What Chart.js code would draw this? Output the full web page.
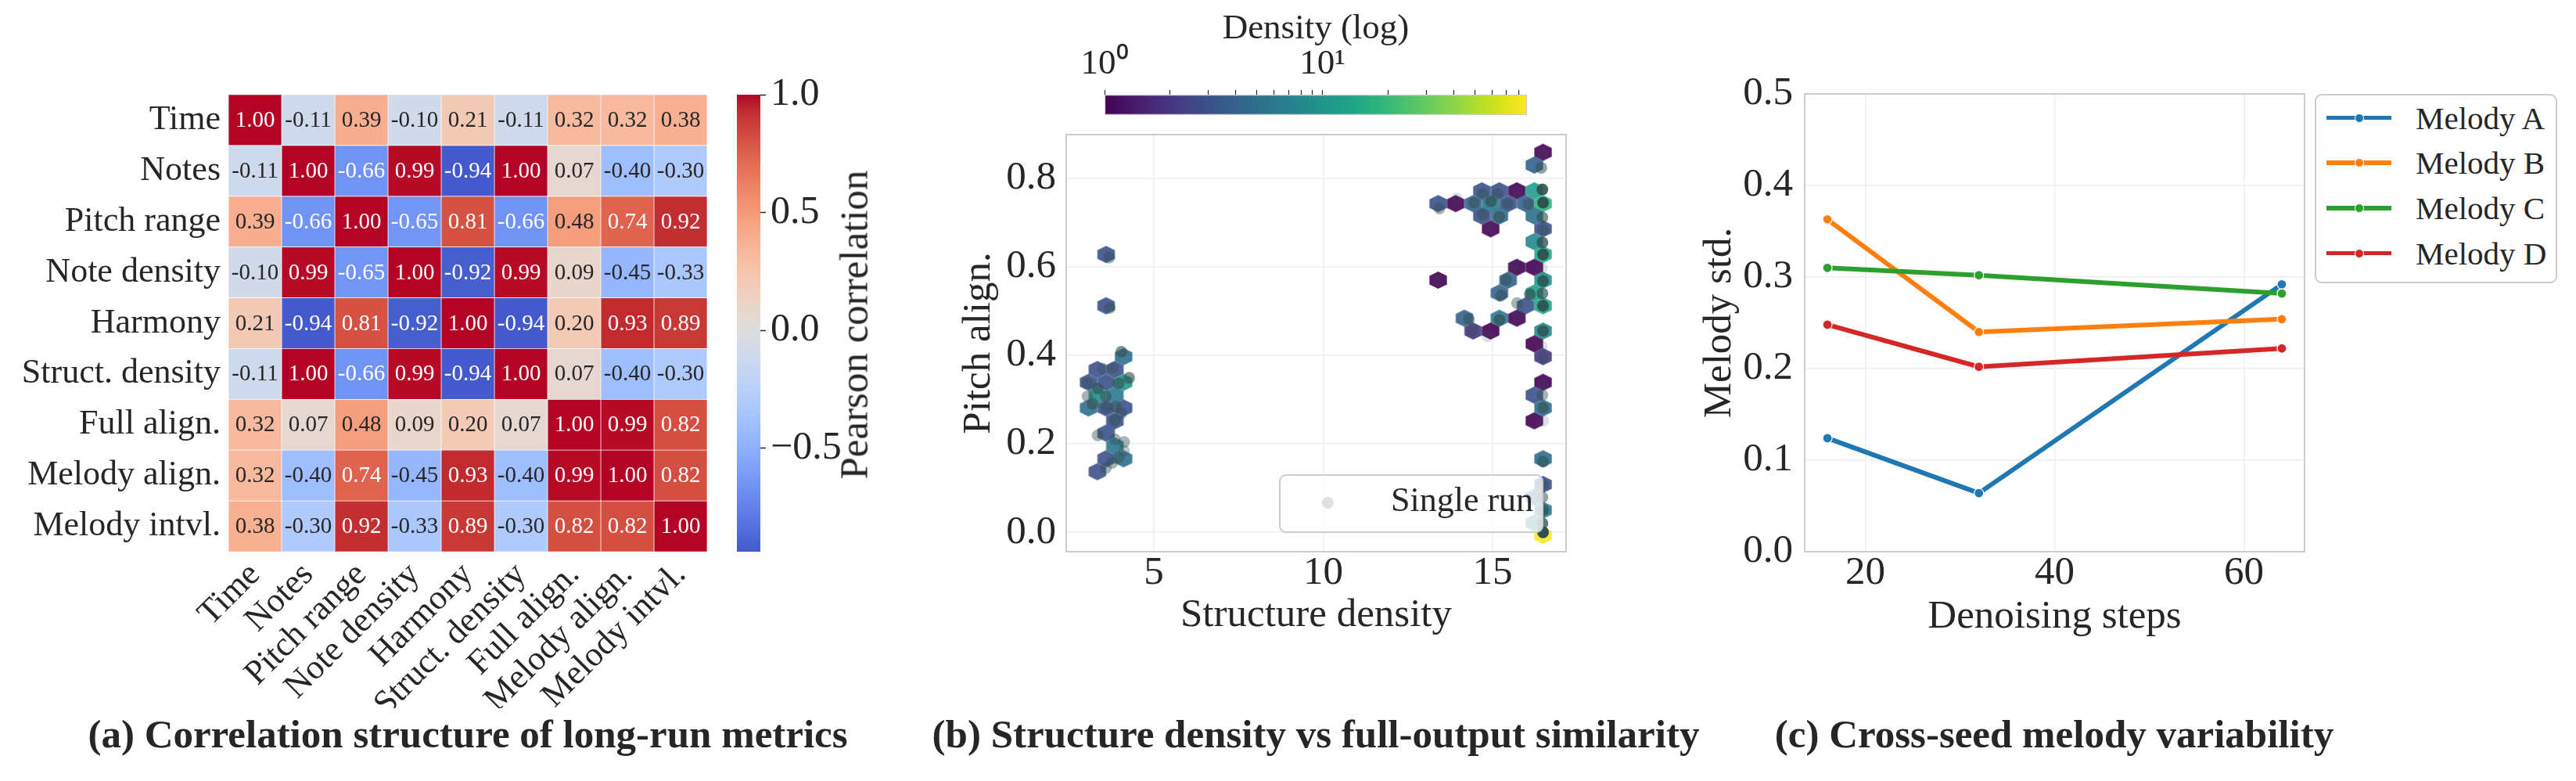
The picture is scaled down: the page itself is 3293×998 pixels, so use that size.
<!DOCTYPE html>
<html>
<head>
<meta charset="utf-8">
<title>Long-run metrics</title>
<script src="https://cdn.jsdelivr.net/npm/chart.js@4.4.1/dist/chart.umd.min.js"></script>
<style>
  html, body { margin:0; padding:0; background:#ffffff; }
  #fig { position:relative; width:3293px; height:998px; overflow:hidden; background:#ffffff;
         font-family:"Liberation Serif","Times New Roman",serif; color:#262626; }
  #fig canvas { position:absolute; }
  .caption { position:absolute; font-weight:bold; font-size:51px; line-height:51px; white-space:nowrap; transform:translateX(-50%); }
  .vlabel { position:absolute; font-size:51px; line-height:51px; white-space:nowrap; transform:translate(-50%,-50%) rotate(-90deg); }
  .lgbox { position:absolute; box-sizing:border-box; border:2px solid #cccccc; border-radius:9px; }
  .lgtext { position:absolute; white-space:nowrap; }
  .lgline { position:absolute; }
  .lgdot { position:absolute; border-radius:50%; box-sizing:border-box; }
</style>
</head>
<body>
<div id="fig">
  <canvas id="heat" width="930" height="998" style="left:0px;top:0px"></canvas>
  <canvas id="cbA" width="200" height="998" style="left:930px;top:0px"></canvas>
  <canvas id="hex" width="900" height="998" style="left:1150px;top:0px"></canvas>
  <canvas id="cbB" width="750" height="160" style="left:1300px;top:0px"></canvas>
  <canvas id="lines" width="1143" height="998" style="left:2150px;top:0px"></canvas>

  <div class="vlabel" style="left:1092px;top:415px">Pearson correlation</div>

  <div class="caption" style="left:598px;top:913px">(a) Correlation structure of long-run metrics</div>
  <div class="caption" style="left:1682px;top:913px">(b) Structure density vs full-output similarity</div>
  <div class="caption" style="left:2626px;top:913px">(c) Cross-seed melody variability</div>

  <div id="legendB"></div>
  <div id="legendC"></div>
</div>

<script>
// ======================= DATA =======================
// (a) correlation matrix
const metricLabels = ['Time','Notes','Pitch range','Note density','Harmony','Struct. density','Full align.','Melody align.','Melody intvl.'];
const corrTime          = [ 1.00,-0.11, 0.39,-0.10, 0.21,-0.11, 0.32, 0.32, 0.38];
const corrNotes         = [-0.11, 1.00,-0.66, 0.99,-0.94, 1.00, 0.07,-0.40,-0.30];
const corrPitchRange    = [ 0.39,-0.66, 1.00,-0.65, 0.81,-0.66, 0.48, 0.74, 0.92];
const corrNoteDensity   = [-0.10, 0.99,-0.65, 1.00,-0.92, 0.99, 0.09,-0.45,-0.33];
const corrHarmony       = [ 0.21,-0.94, 0.81,-0.92, 1.00,-0.94, 0.20, 0.93, 0.89];
const corrStructDensity = [-0.11, 1.00,-0.66, 0.99,-0.94, 1.00, 0.07,-0.40,-0.30];
const corrFullAlign     = [ 0.32, 0.07, 0.48, 0.09, 0.20, 0.07, 1.00, 0.99, 0.82];
const corrMelodyAlign   = [ 0.32,-0.40, 0.74,-0.45, 0.93,-0.40, 0.99, 1.00, 0.82];
const corrMelodyIntvl   = [ 0.38,-0.30, 0.92,-0.33, 0.89,-0.30, 0.82, 0.82, 1.00];
const corrRows = [corrTime, corrNotes, corrPitchRange, corrNoteDensity, corrHarmony,
                  corrStructDensity, corrFullAlign, corrMelodyAlign, corrMelodyIntvl];
const corrBarTicks = [-0.5, 0.0, 0.5, 1.0];

// (b) hexbin cells (centre x, centre y, count) and single runs (x, y, number of overlapping runs)
const hexX = [16.49,16.232,14.684,15.2,15.716,16.232,13.394,13.91,14.426,14.942,15.458,15.974,16.49,
              14.684,15.2,16.232,14.942,16.49,16.232,16.49,15.716,16.232,13.394,15.458,16.49,15.2,16.232,
              15.974,16.49,14.168,15.2,15.716,14.426,14.942,16.49,16.232,16.49,16.49,16.232,16.49,16.232,
              16.49,16.49,16.232,16.49,16.232,16.49,
              3.59,3.59,4.106,3.332,3.848,3.074,3.59,4.106,3.332,3.848,3.074,3.59,4.106,3.848,3.59,3.848,3.59,4.106,3.332];
const hexY = [0.859,0.830,0.772,0.772,0.772,0.772,0.743,0.743,0.743,0.743,0.743,0.743,0.743,
              0.715,0.715,0.715,0.686,0.686,0.657,0.628,0.599,0.599,0.570,0.570,0.570,0.541,0.541,
              0.512,0.512,0.484,0.484,0.484,0.455,0.455,0.455,0.426,0.397,0.339,0.310,0.281,0.252,
              0.166,0.108,0.079,0.050,0.021,-0.007,
              0.628,0.512,0.397,0.368,0.368,0.339,0.339,0.339,0.310,0.310,0.281,0.281,0.281,0.252,0.224,0.195,0.166,0.166,0.137];
const hexCount = [1,4,3,3,1,12,3,1,4,6,3,4,18,
                  3,5,5,1,3,8,14,1,1,1,4,9,4,12,
                  3,13,4,6,1,2,1,8,1,2,1,3,5,1,
                  5,3,4,6,8,87,
                  3,3,5,3,3,3,3,10,9,6,5,3,3,3,3,6,3,5,3];
const runX = [16.49,16.44,14.70,15.15,15.75,16.47,13.43,13.95,14.45,14.95,15.45,16.05,16.49,
              14.70,15.20,16.47,14.94,16.49,16.47,16.49,15.62,16.45,13.40,15.40,16.49,15.25,16.10,
              16.47,15.72,16.49,14.30,15.20,15.75,14.40,14.85,16.49,16.45,16.49,16.49,16.47,16.49,
              16.49,16.49,16.49,16.47,16.49,16.47,16.49,
              3.68,3.70,4.04,3.50,3.80,3.04,4.27,3.96,3.34,3.58,3.04,3.19,3.88,4.04,3.59,3.85,3.34,
              3.85,4.12,4.12,3.96,3.77,3.58];
const runY = [0.855,0.824,0.765,0.765,0.765,0.775,0.732,0.755,0.745,0.748,0.742,0.742,0.745,
              0.718,0.713,0.712,0.690,0.684,0.655,0.628,0.600,0.597,0.568,0.570,0.568,0.535,0.538,
              0.540,0.518,0.512,0.482,0.480,0.490,0.455,0.443,0.455,0.420,0.393,0.335,0.310,0.281,
              0.252,0.160,0.108,0.079,0.050,0.020,0.000,
              0.621,0.507,0.408,0.370,0.372,0.337,0.349,0.337,0.325,0.307,0.307,0.290,0.284,0.269,0.281,0.253,0.219,
              0.210,0.204,0.184,0.169,0.157,0.145];
const runN = [1,4,3,3,1,12,3,1,4,6,3,3,18,
              3,5,5,1,3,8,14,1,1,1,4,9,4,6,
              6,3,13,4,6,1,2,1,8,1,2,1,3,5,
              1,5,3,4,6,8,87,
              3,3,5,2,2,3,5,5,5,4,3,5,3,3,3,3,3,
              3,3,2,3,3,3];
const densityTicks = [1,2,3,4,5,6,7,8,9,10,20,30,40,50,60,70,80];
const structTicks = [5, 10, 15];
const alignTicks = [0.0, 0.2, 0.4, 0.6, 0.8];

// (c) cross-seed variability
const steps   = [16, 32, 64];
const melodyA = [0.124, 0.064, 0.292];
const melodyB = [0.363, 0.240, 0.254];
const melodyC = [0.310, 0.302, 0.282];
const melodyD = [0.248, 0.202, 0.222];
const seriesNames = ['Melody A', 'Melody B', 'Melody C', 'Melody D'];
const stdTicks  = [0.0, 0.1, 0.2, 0.3, 0.4, 0.5];
const stepTicks = [20, 40, 60];

// ======================= STYLE HELPERS =======================
const INK = '#262626';
const seriesColors = ['#1f77b4', '#ff7f0e', '#2ca02c', '#d62728'];
Chart.defaults.font.family = '"Liberation Serif", "Times New Roman", serif';
Chart.defaults.color = INK;

const coolwarmTable = [
 [59,76,192],[68,90,204],[77,104,215],[87,117,225],[98,130,234],[108,142,241],[119,154,247],[130,165,251],
 [141,176,254],[152,185,255],[163,194,255],[174,201,253],[184,208,249],[194,213,244],[204,217,238],[213,219,230],
 [221,221,221],[229,216,209],[236,211,197],[241,204,184],[245,196,172],[247,187,159],[247,177,147],[247,166,134],
 [244,154,122],[241,141,111],[236,127,99],[229,112,89],[222,96,77],[213,80,66],[203,62,56],[192,40,47],[180,4,38]];
const viridisTable = ['#440154','#471365','#482475','#463480','#414487','#3b528b','#355f8d','#2f6c8e','#2a788e',
 '#25848e','#21918c','#1e9c89','#22a884','#2fb47c','#44bf70','#5ec962','#7ad151','#9bd93c','#bddf26','#dfe318','#fde725']
 .map(h => [parseInt(h.slice(1,3),16), parseInt(h.slice(3,5),16), parseInt(h.slice(5,7),16)]);

function sampleTable(tab, t) {
  t = Math.max(0, Math.min(1, t));
  const p = t * (tab.length - 1), i = Math.min(tab.length - 2, Math.floor(p)), f = p - i;
  return tab[i].map((c, k) => Math.round(c + (tab[i + 1][k] - c) * f));
}
function rgb(a, alpha) { return alpha === undefined ? `rgb(${a[0]},${a[1]},${a[2]})` : `rgba(${a[0]},${a[1]},${a[2]},${alpha})`; }
// seaborn-style centred map: value v -> coolwarm((v + 1) / 2)
function corrColorArr(v) { return sampleTable(coolwarmTable, (v + 1) / 2); }
function luminance(a) {
  const l = a.map(c => { c /= 255; return c <= 0.03928 ? c / 12.92 : Math.pow((c + 0.055) / 1.055, 2.4); });
  return 0.2126 * l[0] + 0.7152 * l[1] + 0.0722 * l[2];
}
const allCorr = corrRows.flat();
const corrMin = Math.min(...allCorr), corrMax = Math.max(...allCorr);
const densMin = 1, densMax = Math.max(...hexCount);
function hexColor(c) { return rgb(sampleTable(viridisTable, Math.log10(c) / Math.log10(densMax)), 0.9); }
const minus = s => s.replace('-', '\u2212');

const baseOpts = { responsive: false, animation: false, devicePixelRatio: 1, events: [] };
const noPlugins = { legend: { display: false }, tooltip: { enabled: false } };

const framePlugin = {
  id: 'frame',
  afterDraw(chart) {
    const { ctx, chartArea: a } = chart;
    ctx.save(); ctx.strokeStyle = '#cccccc'; ctx.lineWidth = 2;
    ctx.strokeRect(a.left, a.top, a.right - a.left, a.bottom - a.top); ctx.restore();
  }
};

// ======================= (a) HEATMAP =======================
const cellTextPlugin = {
  id: 'cellText',
  afterDatasetsDraw(chart) {
    const { ctx } = chart;
    ctx.save();
    ctx.font = '29px "Liberation Serif", serif';
    ctx.textAlign = 'center'; ctx.textBaseline = 'middle';
    chart.data.datasets.forEach((ds, j) => {
      chart.getDatasetMeta(j).data.forEach((el, i) => {
        const v = ds.corr[i];
        ctx.fillStyle = luminance(corrColorArr(v)) > 0.408 ? INK : '#ffffff';
        ctx.fillText(v.toFixed(2), (el.x + el.base) / 2, el.y + 1);
      });
    });
    ctx.restore();
  }
};

new Chart(document.getElementById('heat'), {
  type: 'bar',
  data: {
    labels: metricLabels,
    datasets: metricLabels.map((name, j) => ({
      label: name,
      corr: corrRows.map(r => r[j]),
      data: corrRows.map(() => [j, j + 1]),
      backgroundColor: corrRows.map(r => rgb(corrColorArr(r[j]))),
      borderColor: '#ffffff', borderWidth: 0.7, borderSkipped: false,
      barPercentage: 1, categoryPercentage: 1, grouped: false
    }))
  },
  options: Object.assign({}, baseOpts, {
    indexAxis: 'y',
    layout: { padding: { left: 0, top: 121, right: 26, bottom: 93 } },
    plugins: noPlugins,
    scales: {
      x: {
        type: 'linear', min: 0, max: metricLabels.length,
        afterBuildTicks: s => { s.ticks = metricLabels.map((_, i) => ({ value: i + 0.5 })); },
        afterFit: s => { s.height = 200; },
        ticks: { autoSkip: false, maxRotation: 45, minRotation: 45, padding: 4, font: { size: 44 }, color: INK,
                 callback: (v, i) => metricLabels[i] },
        grid: { display: false, drawTicks: false }, border: { display: false }
      },
      y: {
        type: 'category',
        afterFit: s => { s.width = 292; },
        ticks: { autoSkip: false, padding: 10, font: { size: 44 }, color: INK },
        grid: { display: false, drawTicks: false }, border: { display: false }
      }
    }
  }),
  plugins: [cellTextPlugin]
});

// colour bar (a)
new Chart(document.getElementById('cbA'), {
  type: 'bar',
  data: { labels: ['r'], datasets: [{
    data: [[corrMin, corrMax]],
    backgroundColor: (ctx) => {
      const ch = ctx.chart; if (!ch.chartArea) return '#dddddd';
      const ys = ch.scales.y, y0 = ys.getPixelForValue(corrMin), y1 = ys.getPixelForValue(corrMax);
      const g = ch.ctx.createLinearGradient(0, y0, 0, y1);
      for (let k = 0; k <= 64; k++) { const v = corrMin + (corrMax - corrMin) * k / 64; g.addColorStop(k / 64, rgb(corrColorArr(v))); }
      return g;
    },
    borderWidth: 0, barPercentage: 1, categoryPercentage: 1
  }] },
  options: Object.assign({}, baseOpts, {
    layout: { padding: { left: 12, top: 121, right: 0, bottom: 293 } },
    plugins: noPlugins,
    scales: {
      x: { display: false },
      y: {
        position: 'right', min: corrMin, max: corrMax,
        afterFit: s => { s.width = 158; },
        afterBuildTicks: s => { s.ticks = corrBarTicks.map(v => ({ value: v })); },
        ticks: { padding: 6, font: { size: 50 }, color: INK, callback: v => minus(v.toFixed(1)) },
        grid: { drawOnChartArea: false, drawTicks: true, tickLength: 7, tickColor: INK, tickWidth: 1.5 },
        border: { display: false }
      }
    }
  })
});

// ======================= (b) HEXBIN =======================
const HEX_W = 0.516;    // hexagon width in data units (x)
const HEX_SY = 0.0578;  // hex lattice row period in data units (y)
const hexCache = {};
function makeHex(color, sx, sy) {
  const c = document.createElement('canvas');
  const w = Math.ceil(sx) + 2, h = Math.ceil(2 * sy / 3) + 2;
  c.width = w; c.height = h;
  const g = c.getContext('2d'), cx = w / 2, cy = h / 2;
  g.fillStyle = color; g.beginPath();
  g.moveTo(cx + sx / 2, cy - sy / 6); g.lineTo(cx + sx / 2, cy + sy / 6); g.lineTo(cx, cy + sy / 3);
  g.lineTo(cx - sx / 2, cy + sy / 6); g.lineTo(cx - sx / 2, cy - sy / 6); g.lineTo(cx, cy - sy / 3);
  g.closePath(); g.fill();
  return c;
}
function hexStyle(ctx) {
  const i = ctx.dataIndex;
  if (i === undefined) return 'circle';
  const xs = ctx.chart.scales.x, ys = ctx.chart.scales.y;
  const sx = Math.abs(xs.getPixelForValue(HEX_W) - xs.getPixelForValue(0));
  const sy = Math.abs(ys.getPixelForValue(HEX_SY) - ys.getPixelForValue(0));
  const col = hexColor(hexCount[i]);
  const key = col + '|' + sx.toFixed(2) + '|' + sy.toFixed(2);
  if (!hexCache[key]) hexCache[key] = makeHex(col, sx, sy);
  return hexCache[key];
}

const gridStyle = { color: '#eeeeee', lineWidth: 1.5, drawTicks: false };
new Chart(document.getElementById('hex'), {
  type: 'scatter',
  data: { datasets: [
    { label: 'Single run', data: runX.map((x, i) => ({ x, y: runY[i] })),
      pointRadius: 7.5, pointBorderWidth: 0, pointHoverRadius: 7.5,
      pointBackgroundColor: runN.map(n => `rgba(47,79,79,${(1 - Math.pow(0.83, n)).toFixed(3)})`), order: 1 },
    { label: 'Density', data: hexX.map((x, i) => ({ x, y: hexY[i] })),
      pointRadius: 12, pointStyle: hexStyle, order: 2 }
  ] },
  options: Object.assign({}, baseOpts, {
    layout: { padding: { left: 0, top: 172, right: 48, bottom: 163 } },
    plugins: noPlugins,
    scales: {
      x: {
        type: 'linear', min: 2.413, max: 17.17,
        afterBuildTicks: s => { s.ticks = structTicks.map(v => ({ value: v })); },
        afterFit: s => { s.height = 130; },
        ticks: { padding: 0, font: { size: 51, lineHeight: 1.1 }, color: INK, maxRotation: 0 },
        grid: gridStyle, border: { display: false },
        title: { display: true, text: 'Structure density', font: { size: 51 }, color: INK, padding: { top: 0, bottom: 18 } }
      },
      y: {
        type: 'linear', min: -0.044, max: 0.899,
        afterBuildTicks: s => { s.ticks = alignTicks.map(v => ({ value: v })); },
        afterFit: s => { s.width = 213; },
        ticks: { padding: 13, font: { size: 51 }, color: INK, callback: v => v.toFixed(1) },
        grid: gridStyle, border: { display: false },
        title: { display: true, text: 'Pitch align.', font: { size: 51 }, color: INK, padding: { top: 71, bottom: 0 } }
      }
    }
  }),
  plugins: [framePlugin]
});

// colour bar (b)
new Chart(document.getElementById('cbB'), {
  type: 'bar',
  data: { labels: ['d'], datasets: [{
    data: [[densMin, densMax]],
    backgroundColor: (ctx) => {
      const ch = ctx.chart; if (!ch.chartArea) return '#21918c';
      const xs = ch.scales.x, x0 = xs.getPixelForValue(densMin), x1 = xs.getPixelForValue(densMax);
      const g = ch.ctx.createLinearGradient(x0, 0, x1, 0);
      for (let k = 0; k <= 40; k++) g.addColorStop(k / 40, rgb(sampleTable(viridisTable, k / 40)));
      return g;
    },
    borderColor: '#cccccc', borderWidth: 1.5, borderSkipped: false, barPercentage: 1, categoryPercentage: 1
  }] },
  options: Object.assign({}, baseOpts, {
    indexAxis: 'y',
    layout: { padding: { left: 112, right: 98, top: 0, bottom: 13 } },
    plugins: noPlugins,
    scales: {
      y: { display: false },
      x: {
        type: 'logarithmic', position: 'top', min: densMin, max: densMax,
        afterFit: s => { s.height = 121; },
        afterBuildTicks: s => { s.ticks = densityTicks.map(v => ({ value: v })); },
        ticks: { autoSkip: false, maxRotation: 0, padding: 8, font: { size: 45, lineHeight: 1.1 }, color: INK,
                 callback: v => (v === 1 ? '10\u2070' : (v === 10 ? '10\u00b9' : '')) },
        grid: { drawOnChartArea: false, drawTicks: true, tickLength: 6, tickColor: INK, tickWidth: 1.2 },
        border: { display: false },
        title: { display: true, text: 'Density (log)', font: { size: 45 }, color: INK, padding: { top: 10, bottom: 0 } }
      }
    }
  })
});

// ======================= (c) LINES =======================
const melodySeries = [melodyA, melodyB, melodyC, melodyD];
new Chart(document.getElementById('lines'), {
  type: 'line',
  data: { datasets: melodySeries.map((vals, k) => ({
    label: seriesNames[k],
    data: steps.map((s, i) => ({ x: s, y: vals[i] })),
    borderColor: seriesColors[k], backgroundColor: seriesColors[k], borderWidth: 6,
    pointRadius: 6, pointBorderColor: '#ffffff', pointBorderWidth: 1.2, pointBackgroundColor: seriesColors[k],
    tension: 0, fill: false, order: melodySeries.length - 1 - k
  })) },
  options: Object.assign({}, baseOpts, {
    layout: { padding: { left: 0, top: 120, right: 347, bottom: 163 } },
    plugins: noPlugins,
    scales: {
      x: {
        type: 'linear', min: 13.6, max: 66.4,
        afterBuildTicks: s => { s.ticks = stepTicks.map(v => ({ value: v })); },
        afterFit: s => { s.height = 130; },
        ticks: { padding: 0, font: { size: 51, lineHeight: 1.1 }, color: INK, maxRotation: 0 },
        grid: gridStyle, border: { display: false },
        title: { display: true, text: 'Denoising steps', font: { size: 51 }, color: INK, padding: { top: 0, bottom: 16 } }
      },
      y: {
        type: 'linear', min: 0, max: 0.5,
        afterBuildTicks: s => { s.ticks = stdTicks.map(v => ({ value: v })); },
        afterFit: s => { s.width = 157; },
        ticks: { padding: 15, font: { size: 51 }, color: INK, callback: v => v.toFixed(1) },
        grid: gridStyle, border: { display: false },
        title: { display: true, text: 'Melody std.', font: { size: 51 }, color: INK, padding: { top: 18, bottom: 0 } }
      }
    }
  }),
  plugins: [framePlugin]
});

// ======================= LEGENDS (HTML text) =======================
(function () {
  const lb = document.getElementById('legendB');
  lb.innerHTML =
    '<div class="lgbox" style="left:1635px;top:606px;width:338px;height:75px;background:rgba(255,255,255,0.8)"></div>' +
    '<div class="lgdot" style="left:1689.5px;top:634.5px;width:15px;height:15px;background:rgba(47,79,79,0.17)"></div>' +
    '<div class="lgtext" style="left:1778px;top:617px;font-size:44px;line-height:44px">Single run</div>';
  const lc = document.getElementById('legendC');
  let html = '<div class="lgbox" style="left:2959px;top:120px;width:310px;height:242px;background:#ffffff"></div>';
  seriesNames.forEach((name, k) => {
    const cy = 150.5 + 57.7 * k;
    html += `<div class="lgline" style="left:2974px;top:${cy - 2.75}px;width:83px;height:5.5px;background:${seriesColors[k]}"></div>`;
    html += `<div class="lgdot" style="left:${3015.5 - 6}px;top:${cy - 6}px;width:12px;height:12px;background:${seriesColors[k]};border:1.2px solid #fff"></div>`;
    html += `<div class="lgtext" style="left:3088px;top:${cy + 14.5 - 34.3}px;font-size:41px;line-height:41px">${name}</div>`;
  });
  lc.innerHTML = html;
})();
</script>
</body>
</html>
